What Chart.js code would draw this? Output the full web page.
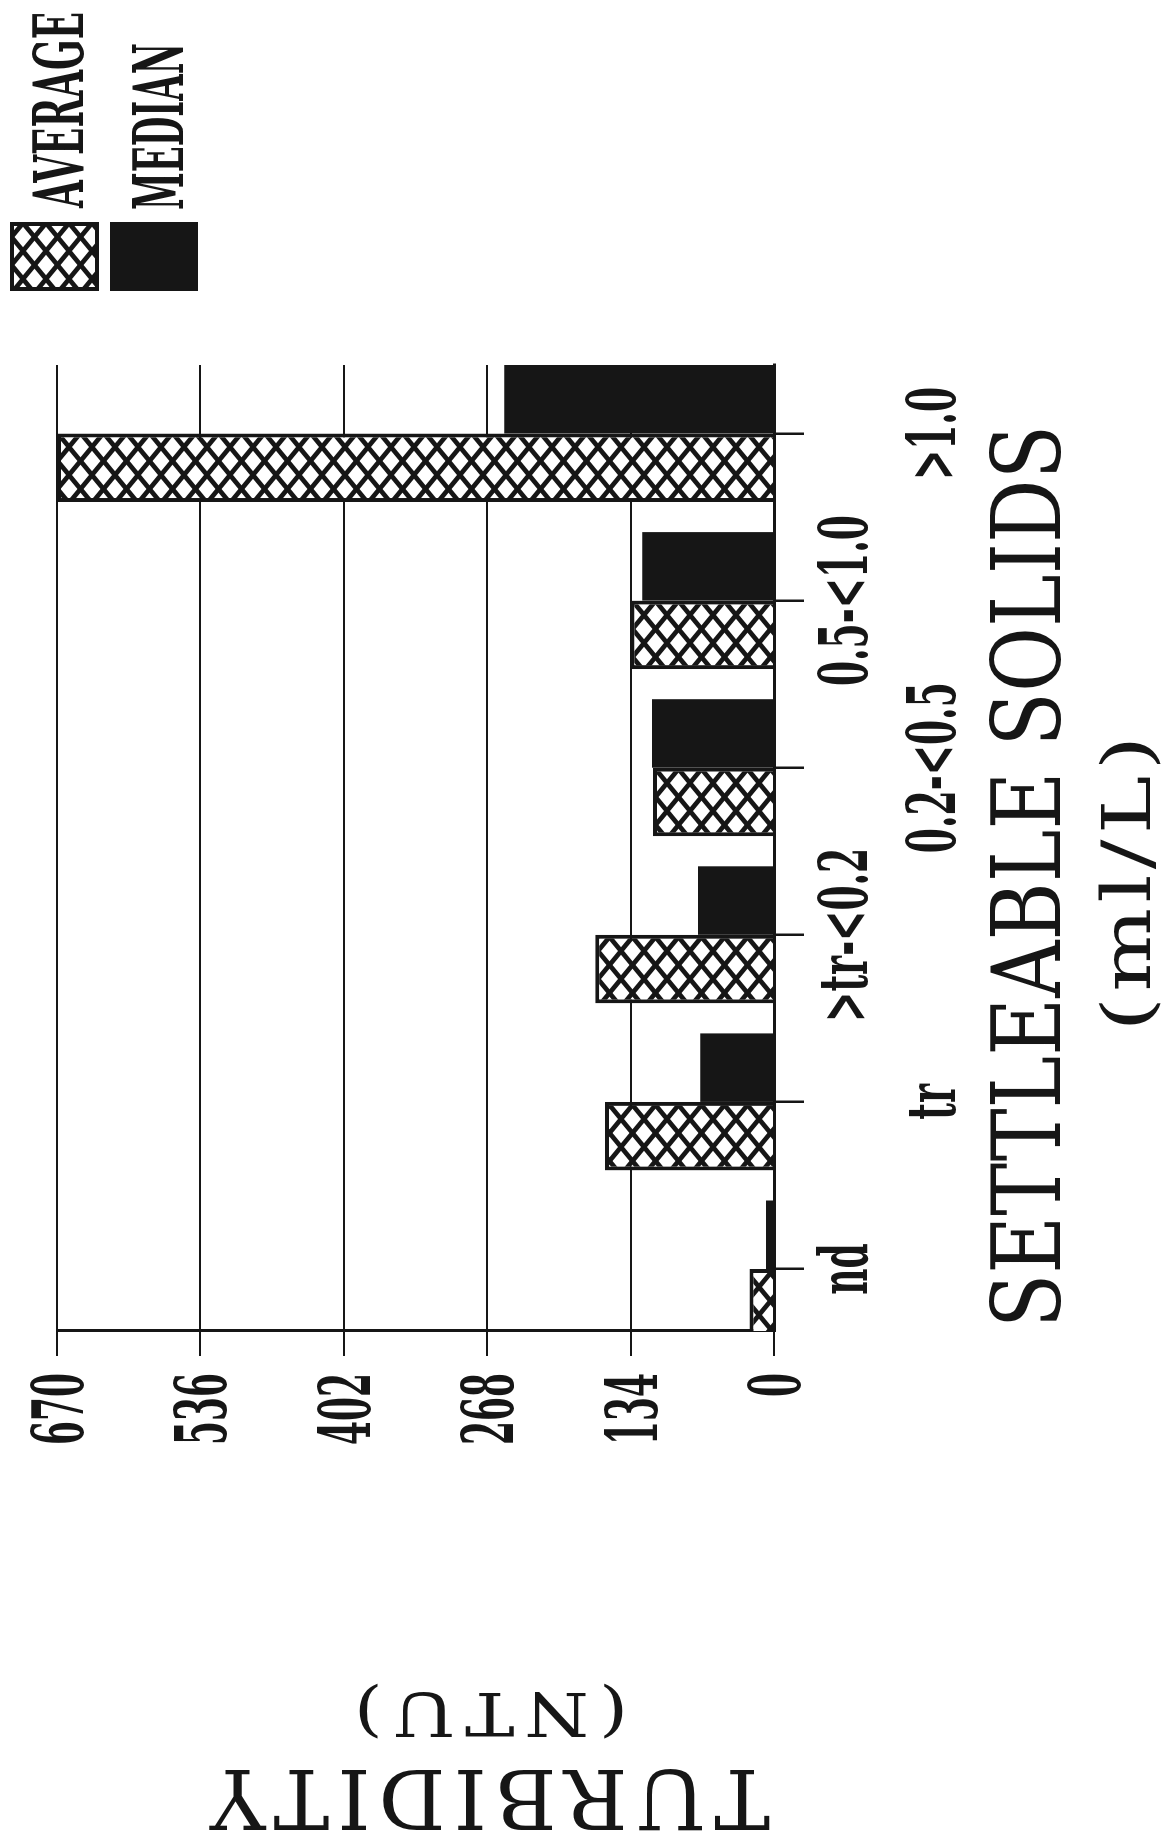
<!DOCTYPE html>
<html>
<head>
<meta charset="utf-8">
<title>Turbidity vs Settleable Solids</title>
<script src="https://cdn.jsdelivr.net/npm/chart.js@4.4.1/dist/chart.umd.min.js"></script>
<style>
  html, body { margin: 0; padding: 0; background: #fff; }
  body { width: 1172px; height: 1847px; overflow: hidden; position: relative; }
  /* chart is drawn upright, then turned a quarter left like the scanned page */
  #wrap { position: absolute; left: 0; top: 0; width: 1847px; height: 1172px; transform-origin: 0 0; transform: translate(0, 1847px) rotate(-90deg); }
</style>
</head>
<body>
<div id="wrap"><canvas id="chart" width="1847" height="1172"></canvas></div>
<script>
const categories = ["nd", "tr", ">tr-<0.2", "0.2-<0.5", "0.5-<1.0", ">1.0"];
const averageValues = [23, 158, 167, 113, 134, 670];
const medianValues = [7.5, 69, 71, 114, 123, 252];
const valueTicks = [0, 134, 268, 402, 536, 670];
const seriesNames = ["AVERAGE", "MEDIAN"];

const INK = "#161616";
const SERIF = "'DejaVu Serif', 'Liberation Serif', serif";

function makeHatch() {
  const w = 28, h = 23, c = document.createElement("canvas");
  c.width = w; c.height = h;
  const g = c.getContext("2d");
  g.fillStyle = "#fff"; g.fillRect(0, 0, w, h);
  g.strokeStyle = INK; g.lineWidth = 4.8;
  for (const k of [-w, 0, w]) {
    g.beginPath(); g.moveTo(k, 0); g.lineTo(k + w, h); g.stroke();
    g.beginPath(); g.moveTo(k + w, 0); g.lineTo(k, h); g.stroke();
  }
  return g.createPattern(c, "repeat");
}

// squeeze or stretch a text so it covers the given width
function fitText(ctx, text, x, y, width, font, align, angle) {
  ctx.save();
  ctx.font = font;
  const s = width / ctx.measureText(text).width;
  ctx.translate(x, y);
  if (angle) ctx.rotate(angle);
  ctx.scale(s, 1);
  ctx.textAlign = align; ctx.textBaseline = "alphabetic"; ctx.fillStyle = INK;
  ctx.fillText(text, 0, 0);
  ctx.restore();
}

function scaledText(ctx, text, x, y, sx, font, align) {
  ctx.save();
  ctx.font = font;
  ctx.translate(x, y); ctx.scale(sx, 1);
  ctx.textAlign = align; ctx.textBaseline = "alphabetic"; ctx.fillStyle = INK;
  ctx.fillText(text, 0, 0);
  ctx.restore();
}

const hatch = makeHatch();

const textPlugin = {
  id: "textPlugin",
  afterDraw(chart) {
    const ctx = chart.ctx, xs = chart.scales.x, ys = chart.scales.y;

    // value labels, left of the value axis
    const vFont = "bold 71px " + SERIF;
    ctx.font = vFont;
    const vsx = 72 / ctx.measureText("670").width;
    valueTicks.forEach(v => scaledText(ctx, String(v), ys.right - 42, ys.getPixelForValue(v) + 26, vsx, vFont, "right"));

    // category labels, staggered on two rows
    const cFont = "bold 68px " + SERIF;
    ctx.font = cFont;
    const csx = 171 / ctx.measureText("0.5-<1.0").width;
    categories.forEach((c, i) => {
      const y = xs.top + (i % 2 ? 181 : 93);
      scaledText(ctx, c, xs.getPixelForValue(i), y, csx, cFont, "center");
    });

    // axis titles
    fitText(ctx, "SETTLEABLE SOLIDS", 519, 1060, 903, "96px " + SERIF, "left");
    ctx.save(); ctx.letterSpacing = "4px";
    fitText(ctx, "(ml/L)", 966, 1150, 301, "68px " + SERIF, "center");
    ctx.restore();
    ctx.save(); ctx.letterSpacing = "8px";
    fitText(ctx, "TURBIDITY", 77, 486, 568, "82px " + SERIF, "center", -Math.PI / 2);
    fitText(ctx, "(NTU)", 154, 486, 284, "60px " + SERIF, "center", -Math.PI / 2);
    ctx.restore();

    // legend
    ctx.save();
    ctx.fillStyle = hatch; ctx.fillRect(1556, 10, 69, 89);
    ctx.strokeStyle = INK; ctx.lineWidth = 4; ctx.strokeRect(1558, 12, 65, 85);
    ctx.fillStyle = INK; ctx.fillRect(1556, 110, 69, 88);
    ctx.restore();
    fitText(ctx, seriesNames[0], 1639, 83, 196, "bold 70px " + SERIF, "left");
    fitText(ctx, seriesNames[1], 1637, 183, 167, "bold 70px " + SERIF, "left");
  }
};

new Chart(document.getElementById("chart"), {
  type: "bar",
  data: {
    datasets: [
      { label: seriesNames[0], data: categories.map((c, i) => ({ x: i, y: averageValues[i] })),
        backgroundColor: hatch, borderColor: INK, borderWidth: 4, borderSkipped: "start" },
      { label: seriesNames[1], data: categories.map((c, i) => ({ x: i, y: medianValues[i] })),
        backgroundColor: INK, borderWidth: 0 }
    ]
  },
  options: {
    responsive: false, animation: false, devicePixelRatio: 1,
    categoryPercentage: 0.82, barPercentage: 1,
    layout: { padding: { top: 57, right: 365, left: 0, bottom: 0 } },
    plugins: { legend: { display: false }, tooltip: { enabled: false } },
    scales: {
      x: {
        type: "linear", min: -0.371, max: 5.41, offset: false,
        ticks: { display: false, stepSize: 1, includeBounds: false },
        grid: { offset: false, drawOnChartArea: false, drawTicks: true, tickLength: 30, color: INK, lineWidth: 2.5 },
        border: { display: true, color: INK, width: 3 },
        afterFit: s => { s.height = 398; }
      },
      y: {
        min: 0, max: 670,
        ticks: { display: false, stepSize: 134 },
        grid: { color: INK, lineWidth: 2, tickLength: 25 },
        border: { display: true, color: INK, width: 3 },
        afterFit: s => { s.width = 516; }
      }
    }
  },
  plugins: [textPlugin]
});
</script>
</body>
</html>
